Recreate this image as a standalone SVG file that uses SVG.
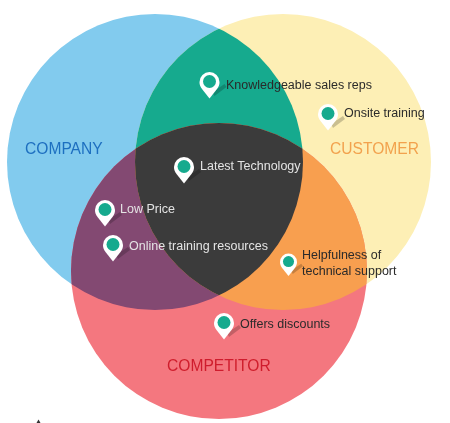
<svg xmlns="http://www.w3.org/2000/svg" width="450" height="423" viewBox="0 0 450 423">
<style>
text{font-family:"Liberation Sans",Arial,sans-serif}
.l{font-size:12.5px;fill:#2a2a2a}
.w{font-size:12.5px;fill:#e4e4e4}
.h{font-size:15.6px}
.pin{fill:#fff}
.dot{fill:#17aa8e}
.sh{fill:#000;opacity:.2}
</style>
<defs>
<filter id="soft" x="-5%" y="-5%" width="110%" height="110%"><feGaussianBlur stdDeviation="0.5"/></filter>
<clipPath id="cCo"><circle cx="155" cy="162" r="148"/></clipPath>
<clipPath id="cCu"><circle cx="283" cy="162" r="148"/></clipPath>
<g id="p"><path class="sh" d="M3 10L15 2L17 5L5 14Z"/><path class="pin" d="M0 16.500L-7.500 7C-9.200 4.800-10 2.600-10 0A10 10 0 0 1 10 0C10 2.600 9.200 4.800 7.500 7Z"/><circle class="dot" cx="0" cy="-.5" r="6.500"/></g>
</defs>
<rect width="450" height="423" fill="#fff"/>
<g id="venn" filter="url(#soft)">
<circle id="company" cx="155" cy="162" r="148" fill="#82cbee"/>
<circle id="customer" cx="283" cy="162" r="148" fill="#fdefb5"/>
<circle id="competitor" cx="219" cy="271" r="148" fill="#f4777f"/>
<g clip-path="url(#cCo)"><circle id="company-customer" cx="283" cy="162" r="148" fill="#17aa8e"/></g>
<g clip-path="url(#cCo)"><circle id="company-competitor" cx="219" cy="271" r="148" fill="#834872"/></g>
<g clip-path="url(#cCu)"><circle id="customer-competitor" cx="219" cy="271" r="148" fill="#f89f50"/></g>
<g clip-path="url(#cCo)"><g clip-path="url(#cCu)"><circle id="all-three" cx="219" cy="271" r="148" fill="#3a3a3a"/></g></g>
</g>
<g id="connectors"/>
<g id="pins" filter="url(#soft)">
<use id="pin-sales" href="#p" x="209.500" y="82"/>
<use id="pin-onsite" href="#p" x="328" y="114"/>
<use id="pin-tech" href="#p" x="184" y="167"/>
<use id="pin-price" href="#p" x="105" y="210"/>
<use id="pin-online" href="#p" x="113" y="245"/>
<use id="pin-help" href="#p" transform="translate(288.500 262) scale(.85)"/>
<use id="pin-discount" href="#p" x="224" y="323"/>
</g>
<g id="labels" filter="url(#soft)">
<text class="h" x="25" y="154" fill="#1f6fc0">COMPANY</text>
<text class="h" x="330" y="154" fill="#f2a24e">CUSTOMER</text>
<text class="h" x="167" y="371" fill="#cf1f2d">COMPETITOR</text>
<text class="l" x="226" y="89">Knowledgeable sales reps</text>
<text class="l" x="344" y="117">Onsite training</text>
<text class="w" x="200" y="170">Latest Technology</text>
<text class="w" x="120" y="213">Low Price</text>
<text class="w" x="129" y="250">Online training resources</text>
<text class="l" x="302" y="259">Helpfulness of</text>
<text class="l" x="302" y="275">technical support</text>
<text class="l" x="240" y="328">Offers discounts</text>
</g>
<path id="mark" d="M38.500 419.500L36.500 423H40.500Z" fill="#333"/>
</svg>
